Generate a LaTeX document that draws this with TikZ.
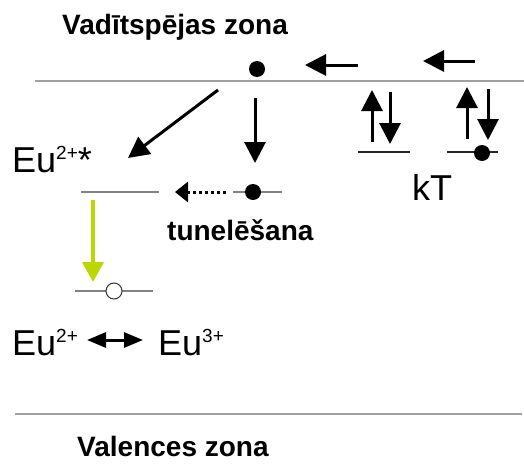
\documentclass[tikz,border=0pt]{standalone}
\usepackage{fontspec}
\setmainfont{Liberation Sans}
\usetikzlibrary{arrows.meta}
\definecolor{bandgray}{RGB}{160,160,160}
\definecolor{levelgray}{RGB}{130,130,130}
\definecolor{limegreen}{RGB}{188,214,0}
\tikzset{
  bandline/.style={draw=bandgray, line width=2pt},
  levelline/.style={draw=levelgray, line width=1.3pt},
  darklevel/.style={draw=black!85, line width=1.2pt},
  bigarrow/.style={draw=black, line width=3pt, -{Triangle[length=21pt,width=21pt]}},
  filldot/.style={circle, fill=black, inner sep=0pt, minimum size=16pt},
  opendot/.style={circle, draw=black!80, fill=white, line width=1pt, inner sep=0pt, minimum size=16pt},
  boldlabel/.style={font=\fontsize{28}{32}\selectfont\bfseries, inner sep=0pt, anchor=base west},
  eulabel/.style={font=\fontsize{36}{40}\selectfont, inner sep=0pt, anchor=base west},
}
\newcommand{\supsm}[1]{\raisebox{13pt}{\fontsize{19}{19}\selectfont #1}}
\begin{document}
\begin{tikzpicture}[x=1pt,y=-1pt]
\useasboundingbox (0,0) rectangle (524,463);
% band edges
\coordinate (cbL) at (35,81);
\coordinate (cbR) at (524,81);
\coordinate (vbL) at (15,414);
\coordinate (vbR) at (522,414);
\draw[bandline] (cbL) -- (cbR);
\draw[bandline] (vbL) -- (vbR);
% labels
\node[boldlabel] (tcb) at (62,34) {Vadītspējas zona};
\node[boldlabel, text depth=0pt] (tvb) at (77,456) {Valences zona};
\node[boldlabel] (ttun) at (167,240) {tunelēšana};
\node[eulabel] (eustar) at (12,172) {Eu\supsm{2+}*};
\node[eulabel] (eu2) at (12,355) {Eu\supsm{2+}};
\node[eulabel] (eu3) at (158,355) {Eu\supsm{3+}};
\node[eulabel] (kt) at (412,200) {kT};
% conduction electron and drift arrows
\node[filldot] (e1) at (257,69) {};
\coordinate (a1s) at (358,65); \coordinate (a1e) at (305,65);
\coordinate (a2s) at (475,61); \coordinate (a2e) at (423,61);
\draw[bigarrow] (a1s) -- (a1e);
\draw[bigarrow] (a2s) -- (a2e);
% capture arrows
\coordinate (dgs) at (218,90); \coordinate (dge) at (128,158);
\coordinate (vs) at (255,98); \coordinate (ve) at (255,163);
\draw[bigarrow] (dgs) -- (dge);
\draw[bigarrow] (vs) -- (ve);
% Eu2+* level
\coordinate (exL) at (81,192); \coordinate (exR) at (159,192);
\draw[levelline] (exL) -- (exR);
% trap level with electron
\coordinate (trL) at (233,192); \coordinate (trR) at (282,192);
\draw[levelline] (trL) -- (trR);
\node[filldot] (e2) at (253,192) {};
% tunnelling arrow
\coordinate (tuS) at (226,192); \coordinate (tuE) at (175,192);
\draw[line width=3pt, dash pattern=on 3pt off 3pt, -{Triangle[length=13pt,width=20pt]}] (tuS) -- (tuE);
% kT traps
\coordinate (k1L) at (358,152); \coordinate (k1R) at (410,152);
\coordinate (k2L) at (447,152); \coordinate (k2R) at (498,152);
\draw[darklevel] (k1L) -- (k1R);
\draw[darklevel] (k2L) -- (k2R);
\node[filldot] (e3) at (482,153) {};
\coordinate (u1s) at (372,142); \coordinate (u1e) at (372,90);
\coordinate (d1s) at (390,92); \coordinate (d1e) at (390,144);
\coordinate (u2s) at (467,139); \coordinate (u2e) at (467,87);
\coordinate (d2s) at (488,89); \coordinate (d2e) at (488,140);
\draw[bigarrow] (u1s) -- (u1e);
\draw[bigarrow] (d1s) -- (d1e);
\draw[bigarrow] (u2s) -- (u2e);
\draw[bigarrow] (d2s) -- (d2e);
% luminescence transition
\coordinate (gs) at (93,200); \coordinate (ge) at (93,282);
\draw[draw=limegreen, line width=4pt, -{Triangle[length=20pt,width=21pt,fill=limegreen]}] (gs) -- (ge);
% ground level with hole
\coordinate (gL) at (75,291); \coordinate (gR) at (153,291);
\draw[levelline] (gL) -- (gR);
\node[opendot] (h1) at (114,291) {};
% Eu2+ <-> Eu3+
\coordinate (dbL) at (87,340); \coordinate (dbR) at (143,340);
\draw[line width=3pt, {Triangle[length=19pt,width=15pt]}-{Triangle[length=19pt,width=15pt]}] (dbL) -- (dbR);
\end{tikzpicture}
\end{document}
